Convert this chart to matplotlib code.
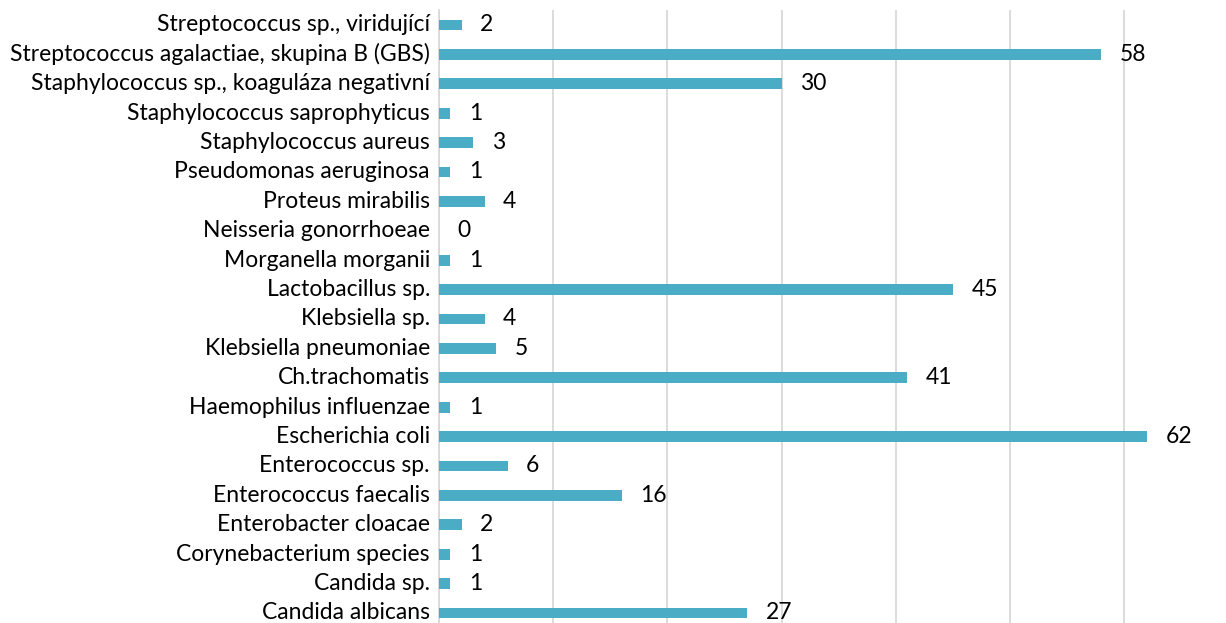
import matplotlib
matplotlib.use("Agg")
import matplotlib.pyplot as plt

categories = ["Candida albicans", "Candida sp.", "Corynebacterium species",
              "Enterobacter cloacae", "Enterococcus faecalis", "Enterococcus sp.",
              "Escherichia coli", "Haemophilus influenzae", "Ch.trachomatis",
              "Klebsiella pneumoniae", "Klebsiella sp.", "Lactobacillus sp.",
              "Morganella morganii", "Neisseria gonorrhoeae", "Proteus mirabilis",
              "Pseudomonas aeruginosa", "Staphylococcus aureus",
              "Staphylococcus saprophyticus",
              "Staphylococcus sp., koaguláza negativní",
              "Streptococcus agalactiae, skupina B (GBS)",
              "Streptococcus sp., viridující"]
values = [27, 1, 1, 2, 16, 6, 62, 1, 41, 5, 4, 45, 1, 0, 4, 1, 3, 1, 30, 58, 2]
ticks = [0, 10, 20, 30, 40, 50, 60]

plt.rcParams['font.family'] = ['Lato', 'DejaVu Sans']

fig = plt.figure(figsize=(12.26, 6.23), dpi=100)
ax = fig.add_axes([439 / 1226, -0.0075, 1 - 439 / 1226, 0.991])

y = list(range(len(categories)))
ax.barh(y, values, height=0.37, color="#4BACC6", zorder=3)
for yi, v in zip(y, values):
    ax.text(v + 1.6, yi, str(v), va="center", ha="left", fontsize=16.5, color="black")

ax.set_yticks(y)
ax.set_yticklabels(categories, fontsize=16.5, va="center")
ax.set_ylim(-0.5, len(categories) - 0.5)
ax.set_xlim(0, 68.9)
ax.set_xticks(ticks)
ax.tick_params(axis="x", bottom=False, labelbottom=False)
ax.tick_params(axis="y", left=False, pad=3)
ax.grid(axis="x", color="#D9D9D9", linewidth=1.3, zorder=0)
for s in ["top", "right", "bottom"]:
    ax.spines[s].set_visible(False)
ax.spines["left"].set_color("#D9D9D9")
ax.spines["left"].set_linewidth(1.3)

fig.savefig("out.png", dpi=100)
